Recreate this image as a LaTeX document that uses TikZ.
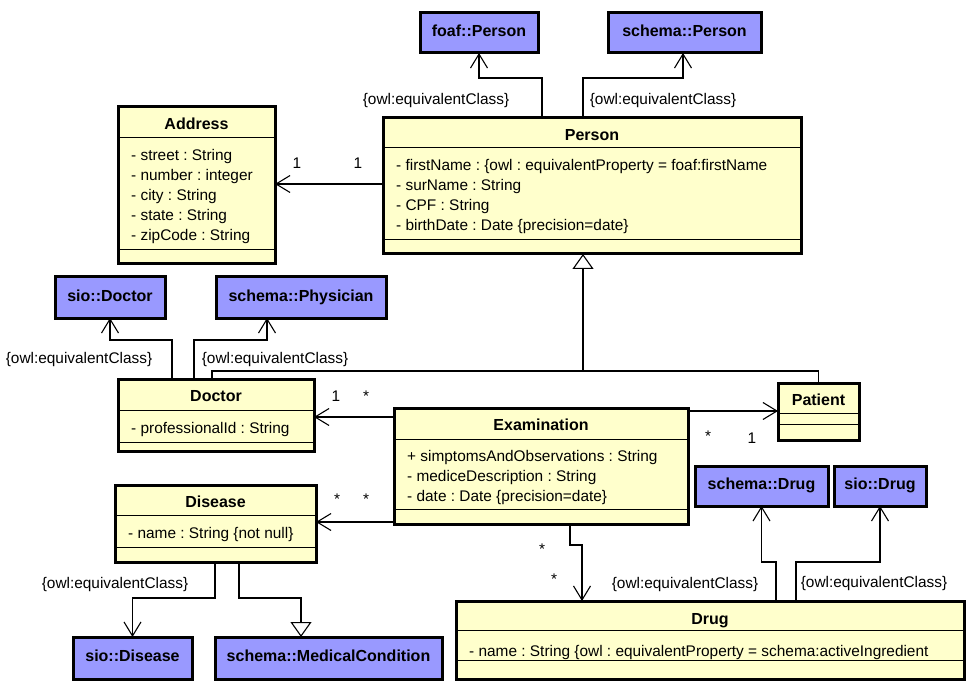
\documentclass[tikz,border=0pt]{standalone}
\usepackage{fontspec}
\setmainfont{Liberation Sans}
\usetikzlibrary{arrows.meta,calc}
\definecolor{clsfill}{HTML}{FFFFCC}
\definecolor{extfill}{HTML}{9999FF}
\frenchspacing
\newcommand\umlreg{\fontsize{15.4}{20}\selectfont}
\newcommand\umlbold{\fontsize{16}{20}\selectfont\bfseries}
% attribute lines of a class box: node name, first baseline below the top edge, list of lines
\newcommand\umlattrs[3]{\foreach [count=\k] \attrtext in {#3} {\node[attr] (#1-a\k) at ($(#1.north west)+(13,#2+20*\k-20)$) {\attrtext};}}
% compartment separator inside a class box
\newcommand\umlsep[2]{\draw[sep] ($(#1.north west)+(0,#2)$) -- ($(#1.north east)+(0,#2)$);}
\begin{document}
\begin{tikzpicture}[x=1pt,y=-1pt,
  cls/.style={rectangle, draw, line width=3pt, fill=clsfill, anchor=north west, inner sep=0pt, outer sep=0pt},
  ext/.style={rectangle, draw, line width=3pt, fill=extfill, anchor=north west, inner sep=0pt, outer sep=0pt, font=\umlbold, text height=11.5pt, text depth=4pt},
  title/.style={font=\umlbold, text height=11.5pt, text depth=0pt, inner sep=0pt},
  attr/.style={font=\umlreg, anchor=base west, inner sep=0pt},
  lbl/.style={font=\umlreg, anchor=base, inner sep=0pt},
  sep/.style={line width=1pt},
  conn/.style={line width=1.1pt},
  assoc/.style={conn, -{Straight Barb[length=14pt,width=17pt]}},
  gen/.style={conn, -{Triangle[length=15pt,width=21pt,fill=white]}}]
\useasboundingbox (0,0) rectangle (968,684);

% ---------- external vocabulary classes ----------
\node[ext, minimum width=118, minimum height=40] (foaf) at (420,13) {foaf::Person};
\node[ext, minimum width=153, minimum height=40] (schemaperson) at (608,13) {schema::Person};
\node[ext, minimum width=110, minimum height=41] (siodoctor) at (55,277) {sio::Doctor};
\node[ext, minimum width=170, minimum height=41] (physician) at (216,277) {schema::Physician};
\node[ext, minimum width=133, minimum height=40] (schemadrug) at (695,466) {schema::Drug};
\node[ext, minimum width=92, minimum height=40] (siodrug) at (834,466) {sio::Drug};
\node[ext, minimum width=119, minimum height=42] (siodisease) at (73,637) {sio::Disease};
\node[ext, minimum width=227, minimum height=42] (medcond) at (215,637) {schema::MedicalCondition};

% ---------- Person ----------
\node[cls, minimum width=418, minimum height=136] (person) at (383,118) {};
\node[title] (person-t) at ($(person.north)+(0,16.5)$) {Person};
\umlsep{person}{30}\umlsep{person}{122}
\umlattrs{person}{53}{- firstName : \{owl : equivalentProperty = foaf:firstName, - surName : String, - CPF : String, - birthDate : Date \{precision=date\}}

% ---------- Address ----------
\node[cls, minimum width=157, minimum height=157] (address) at (118,107) {};
\node[title] (address-t) at ($(address.north)+(0,17)$) {Address};
\umlsep{address}{31}\umlsep{address}{143}
\umlattrs{address}{54}{- street : String, - number : integer, - city : String, - state : String, - zipCode : String}

% ---------- Doctor ----------
\node[cls, minimum width=196, minimum height=72] (doctor) at (118,379) {};
\node[title] (doctor-t) at ($(doctor.north)+(0,17)$) {Doctor};
\umlsep{doctor}{31}\umlsep{doctor}{63}
\umlattrs{doctor}{54}{- professionalId : String}

% ---------- Patient ----------
\node[cls, minimum width=81, minimum height=57] (patient) at (778,383) {};
\node[title] (patient-t) at ($(patient.north)+(0,16.5)$) {Patient};
\umlsep{patient}{30}\umlsep{patient}{41}

% ---------- Examination ----------
\node[cls, minimum width=294, minimum height=116] (exam) at (394,408) {};
\node[title] (exam-t) at ($(exam.north)+(0,16.5)$) {Examination};
\umlsep{exam}{31}\umlsep{exam}{101}
\umlattrs{exam}{53}{+ simptomsAndObservations : String, - mediceDescription : String, - date : Date \{precision=date\}}

% ---------- Disease ----------
\node[cls, minimum width=201, minimum height=77] (disease) at (115,485) {};
\node[title] (disease-t) at ($(disease.north)+(0,16.5)$) {Disease};
\umlsep{disease}{30}\umlsep{disease}{62}
\umlattrs{disease}{53}{- name : String \{not null\}}

% ---------- Drug ----------
\node[cls, minimum width=508, minimum height=78] (drug) at (456,601) {};
\node[title] (drug-t) at ($(drug.north)+(0,18)$) {Drug};
\umlsep{drug}{29}\umlsep{drug}{59}
\umlattrs{drug}{55}{- name : String \{owl : equivalentProperty = schema:activeIngredient}

% ---------- equivalence links ----------
\draw[assoc] ($(person.north west)+(159,0)$) -- ++(0,-40) -| (foaf.south);
\draw[assoc] ($(person.north west)+(200,0)$) -- ++(0,-40) -| ($(schemaperson.south west)+(75,0)$);
\draw[assoc] ($(doctor.north west)+(54,0)$) -- ++(0,-39) -| (siodoctor.south);
\draw[assoc] ($(doctor.north west)+(76,0)$) -- ++(0,-39) -| ($(physician.south west)+(51,0)$);
\draw[assoc] ($(disease.south west)+(100,0)$) -- ++(0,36) -| (siodisease.north);
\draw[gen] ($(disease.south west)+(124,0)$) -- ++(0,36) -| ($(medcond.north west)+(86,0)$);
\draw[assoc] ($(drug.north west)+(320,0)$) -- ++(0,-39) -| (schemadrug.south);
\draw[assoc] ($(drug.north west)+(340,0)$) -- ++(0,-39) -| (siodrug.south);

\node[lbl] (eq-foaf) at (436,105) {\{owl:equivalentClass\}};
\node[lbl] (eq-schemaperson) at (663,105) {\{owl:equivalentClass\}};
\node[lbl] (eq-siodoctor) at (79,363.5) {\{owl:equivalentClass\}};
\node[lbl] (eq-physician) at (275,363.5) {\{owl:equivalentClass\}};
\node[lbl] (eq-siodisease) at (115,588) {\{owl:equivalentClass\}};
\node[lbl] (eq-schemadrug) at (685,588) {\{owl:equivalentClass\}};
\node[lbl] (eq-siodrug) at (874,587) {\{owl:equivalentClass\}};

% ---------- generalization Doctor/Patient -> Person ----------
\coordinate (gj) at ($(person.south west)+(200,117)$);
\draw[conn] ($(doctor.north west)+(94,0)$) |- (gj) -| (patient.north);
\draw[gen] (gj) -- (gj |- person.south);

% ---------- associations ----------
\coordinate (pa) at ($(person.north west)+(0,66)$);
\draw[assoc] (pa) -- (pa -| address.east);
\node[lbl] (m-pa1) at (297,169) {1};
\node[lbl] (m-pa2) at (358,169) {1};

\coordinate (ed) at ($(exam.north west)+(0,9)$);
\draw[assoc] (ed) -- (ed -| doctor.east);
\node[lbl] (m-ed1) at (336,401) {1};
\node[lbl] (m-ed2) at (366,401) {*};

\coordinate (es) at ($(exam.south west)+(0,-2)$);
\draw[assoc] (es) -- (es -| disease.east);
\node[lbl] (m-es1) at (337,504) {*};
\node[lbl] (m-es2) at (366,504) {*};

\coordinate (ep) at ($(exam.north east)+(0,3)$);
\draw[assoc] (ep) -- (ep -| patient.west);
\node[lbl] (m-ep1) at (708,441) {*};
\node[lbl] (m-ep2) at (752,443) {1};

\draw[assoc] ($(exam.south west)+(176,0)$) -- ++(0,21) -| ($(drug.north west)+(126,0)$);
\node[lbl] (m-dr1) at (542,554) {*};
\node[lbl] (m-dr2) at (554,584) {*};
\end{tikzpicture}
\end{document}
